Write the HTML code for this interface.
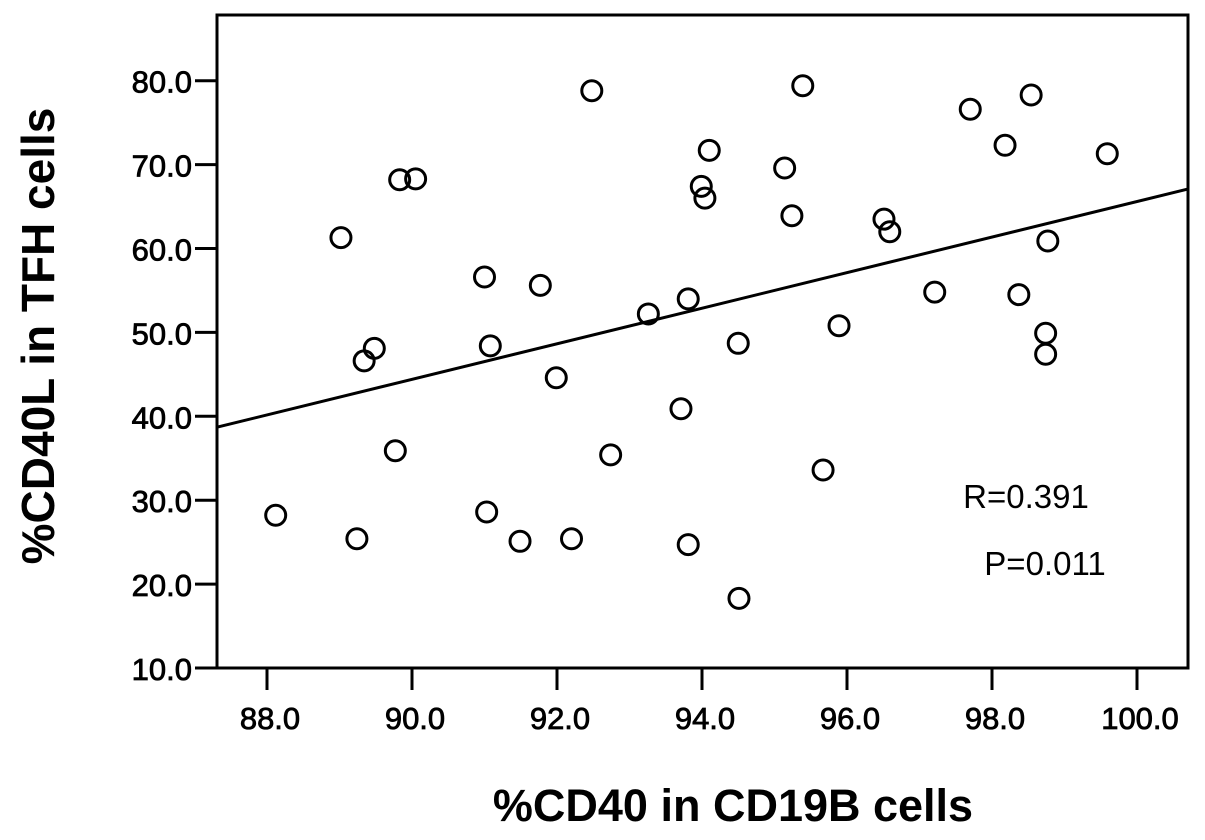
<!DOCTYPE html>
<html><head><meta charset="utf-8"><style>
body{margin:0;background:#fff;}
svg text{font-family:"Liberation Sans",sans-serif;}
</style></head><body>
<svg id="chart" width="1205" height="835" xmlns="http://www.w3.org/2000/svg">
<rect x="217" y="15" width="971" height="653" fill="none" stroke="#000" stroke-width="3"/>
<g id="marks"></g>
<text x="1026" y="508" font-size="33" text-anchor="middle">R=0.391</text>
<text x="1045" y="575" font-size="33" text-anchor="middle">P=0.011</text>
<text x="733" y="821" font-size="45" font-weight="bold" text-anchor="middle">%CD40 in CD19B cells</text>
<text transform="translate(54,336) rotate(-90)" font-size="46" font-weight="bold" text-anchor="middle">%CD40L in TFH cells</text>
</svg>
<script>
const xVals=[88.12,89.02,89.24,89.34,89.48,89.77,89.83,90.05,91.0,91.03,91.08,91.49,91.77,91.99,92.2,92.48,92.74,93.26,93.81,93.71,93.81,93.99,94.04,94.1,94.5,94.51,95.14,95.24,95.39,95.67,95.89,96.51,96.59,97.21,97.7,98.18,98.54,98.37,98.77,98.74,98.74,99.59];
const yVals=[28.2,61.3,25.4,46.6,48.1,35.9,68.2,68.3,56.6,28.6,48.4,25.1,55.6,44.6,25.4,78.8,35.4,52.2,24.7,40.9,54.0,67.4,66.0,71.7,48.7,18.3,69.6,63.9,79.4,33.6,50.8,63.5,62.0,54.8,76.6,72.3,78.3,54.5,60.9,49.9,47.4,71.3];
const xTicks=[88,90,92,94,96,98,100];
const yTicks=[10,20,30,40,50,60,70,80];
const fitLine=[87.31,38.7,2.12]; // x0, y at x0, slope
const xMin=87.31,xMax=100.7;
const NS="http://www.w3.org/2000/svg";
const sx=v=>267+(v-88)*72.5;
const sy=v=>668-(v-10)*8.39;
const svg=document.getElementById('chart');
const g=document.getElementById('marks');
function mk(t,a){const e=document.createElementNS(NS,t);for(const k in a)e.setAttribute(k,a[k]);return e;}
xTicks.forEach(t=>{
  const l=mk('line',{x1:sx(t),x2:sx(t),y1:668,y2:690,stroke:'#000','stroke-width':3});
  
  
  svg.appendChild(l);
  const tx=mk('text',{x:sx(t)+3,y:729,'font-size':31,'text-anchor':'middle',stroke:'#000','stroke-width':0.8});
  
  
  tx.textContent=t.toFixed(1);svg.appendChild(tx);
});
yTicks.forEach(t=>{
  const l=mk('line',{x1:195,x2:217,y1:sy(t),y2:sy(t),stroke:'#000','stroke-width':3});
  
  
  svg.appendChild(l);
  const tx=mk('text',{x:192,y:sy(t)+12,'font-size':31,'text-anchor':'end',stroke:'#000','stroke-width':0.8});
  
  
  tx.textContent=t.toFixed(1);svg.appendChild(tx);
});
const f=x=>fitLine[1]+fitLine[2]*(x-fitLine[0]);
const ln=mk('line',{x1:sx(xMin),y1:sy(f(xMin)),x2:sx(xMax),y2:sy(f(xMax)),stroke:'#000','stroke-width':3});


g.appendChild(ln);
xVals.forEach((x,i)=>{
  const c=mk('circle',{cx:sx(x),cy:sy(yVals[i]),r:10,fill:'none',stroke:'#000','stroke-width':3});
  
  
  g.appendChild(c);
});
</script>
</body></html>
